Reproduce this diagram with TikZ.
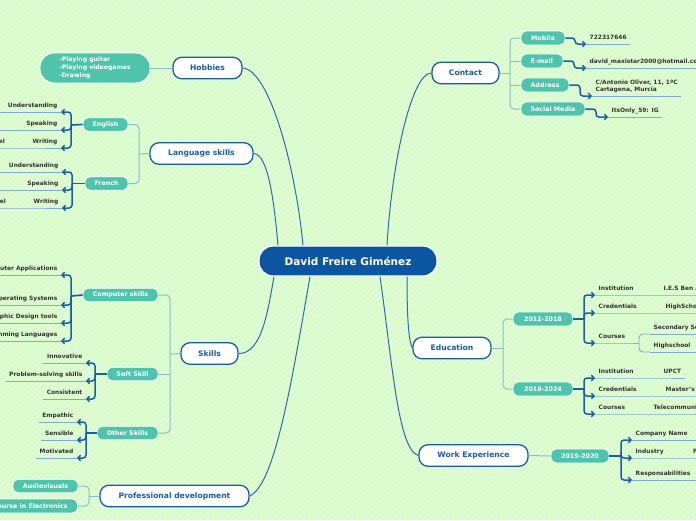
\documentclass[tikz,border=0pt]{standalone}
\usepackage{fontspec}
\setmainfont{DejaVu Sans}
\usetikzlibrary{arrows.meta}
\definecolor{bgc}{HTML}{D9FBCA}
\definecolor{stripec}{HTML}{E3FDD7}
\definecolor{cdark}{HTML}{0C55A1}
\definecolor{cblue}{HTML}{1A5CA8}
\definecolor{curvec}{HTML}{2C6BB2}
\definecolor{cteal}{HTML}{4EC4AA}
\definecolor{slinec}{HTML}{8DBCCF}
\definecolor{ulinec}{HTML}{7FA9D6}
\definecolor{lthickc}{HTML}{1A5FAE}
\definecolor{ltextc}{HTML}{333333}
\tikzset{
  cnode/.style={fill=cdark, draw=white, line width=1.2pt, rounded corners=14pt, text=white,
    font=\fontsize{10.5}{12}\selectfont\bfseries, minimum width=178pt, minimum height=30pt, inner sep=0pt},
  mnode/.style={fill=white, draw=cblue, line width=1.3pt, rounded corners=9pt, text=cblue,
    font=\fontsize{7.6}{9}\selectfont\bfseries, minimum height=21.5pt, inner sep=0pt},
  snode/.style={fill=cteal, draw=white, line width=0.9pt, rounded corners=5pt, text=white,
    font=\fontsize{6.3}{7.5}\selectfont\bfseries, minimum height=13.5pt, inner xsep=5pt, inner ysep=0pt},
  leaf/.style={text=ltextc, font=\fontsize{5.9}{7}\selectfont\bfseries, inner xsep=3.5pt, inner ysep=2.5pt,
    text depth=1.5pt},
  curvel/.style={draw=curvec, line width=1pt},
  sbr/.style={draw=slinec, line width=1pt, rounded corners=4pt},
  lstub/.style={draw=lthickc, line width=1.7pt},
  lbr/.style={draw=lthickc, line width=1.5pt, rounded corners=3pt, -{Straight Barb[length=2.6pt,width=5.5pt]}},
  ul/.style={draw=ulinec, line width=0.9pt},
  ulr/.style={draw=ulinec, line width=0.9pt, rounded corners=4pt},
}
\begin{document}
\begin{tikzpicture}[x=1pt,y=-1pt]
\useasboundingbox (0,0) rectangle (696,520);
\clip (0,0) rectangle (696,520);
\fill[bgc] (0,0) rectangle (696,520);
\foreach \i in {-520,-514,...,696} \draw[stripec, line width=1.2pt] (\i,520) -- ({\i+520},0);

% centre
\node[cnode] (cen) at (348,261) {David Freire Giménez};

% main topics
\node[mnode, minimum width=69pt] (hob) at (207.5,68) {Hobbies};
\node[mnode, minimum width=103pt] (lan) at (201.5,153.5) {Language skills};
\node[mnode, minimum width=57pt] (ski) at (209.5,353.5) {Skills};
\node[mnode, minimum width=149pt] (pro) at (174.5,496) {Professional development};
\node[mnode, minimum width=67pt] (con) at (465.5,73) {Contact};
\node[mnode, minimum width=78pt] (edu) at (452,348) {Education};
\node[mnode, minimum width=109pt] (wor) at (473.5,455.5) {Work Experience};

% curves from centre
\draw[curvel] (hob.east) .. controls (270,70) and (296,170) .. ([xshift=-45pt]cen.north);
\draw[curvel] (lan.east) .. controls (268,154) and (274,200) .. ([xshift=-70pt]cen.north);
\draw[curvel] (con.west) .. controls (412,73) and (392,160) .. ([xshift=39pt]cen.north);
\draw[curvel] (ski.east) .. controls (262,354) and (268,310) .. ([xshift=-74pt]cen.south);
\draw[curvel] (pro.east) .. controls (275,485) and (292,380) .. ([xshift=-38pt]cen.south);
\draw[curvel] ([xshift=59pt]cen.south) .. controls (407,310) and (408,340) .. (edu.west);
\draw[curvel] ([xshift=32pt]cen.south) .. controls (392,360) and (398,450) .. (wor.west);

% Hobbies
\node[fill=cteal, draw=white, line width=0.9pt, rounded corners=14pt, text=white, align=left,
  font=\fontsize{6.1}{8}\selectfont\bfseries, minimum width=110pt, minimum height=30pt, inner sep=0pt]
  (hobt) at (95,68) {-Playing guitar\\-Playing videogames\\-Drawing};
\draw[sbr] (hob.west) -- (hobt.east);

% Language skills
\node[snode, minimum width=45pt] (en) at (105.5,124.5) {English};
\node[snode, minimum width=43pt] (fr) at (106.5,183.5) {French};
\draw[sbr] (en.east) -| (139,154) |- (fr.east);
\draw[sbr] (lan.west) -- (139,154);

\draw[lstub] (en.west) -- (71,125);
\node[leaf, anchor=south east] (e1) at (61,112) {Understanding};
\node[leaf, anchor=south east] (e2) at (61,130) {Speaking};
\node[leaf, anchor=south east] (e3) at (61,148) {Writing};
\node[leaf, anchor=south east] (e4) at (8.5,148) {level};
\draw[ul] (e1.south east) -- +(-70,0);
\draw[ul] (e2.south east) -- +(-70,0);
\draw[ul] (e3.south east) -- (e3.south west) -- (e4.south east) -- (e4.south west);
\draw[lbr] (71,125) |- (e1.south east);
\draw[lbr] (71,125) |- (e2.south east);
\draw[lbr] (71,125) |- (e3.south east);

\draw[lstub] (fr.west) -- (72,183.5);
\node[leaf, anchor=south east] (f1) at (62,172) {Understanding};
\node[leaf, anchor=south east] (f2) at (62,190) {Speaking};
\node[leaf, anchor=south east] (f3) at (62,208) {Writing};
\node[leaf, anchor=south east] (f4) at (9.5,208) {level};
\draw[ul] (f1.south east) -- +(-70,0);
\draw[ul] (f2.south east) -- +(-70,0);
\draw[ul] (f3.south east) -- (f3.south west) -- (f4.south east) -- (f4.south west);
\draw[lbr] (72,183.5) |- (f1.south east);
\draw[lbr] (72,183.5) |- (f2.south east);
\draw[lbr] (72,183.5) |- (f3.south east);

% Skills
\node[snode, minimum width=75pt] (cs) at (120.5,295) {Computer skills};
\node[snode, minimum width=51pt] (ss) at (132.5,374) {Soft Skill};
\node[snode, minimum width=61pt] (os) at (127.5,433) {Other Skills};
\draw[sbr] (cs.east) -| (170,354) |- (os.east);
\draw[sbr] (ss.east) -- (170,374);
\draw[sbr] (ski.west) -- (170,354);

\draw[lstub] (cs.west) -- (71,296);
\node[leaf, anchor=south east] (c1) at (61,275) {Computer Applications};
\node[leaf, anchor=south east] (c2) at (61,305) {Operating Systems};
\node[leaf, anchor=south east] (c3) at (61,323) {Graphic Design tools};
\node[leaf, anchor=south east] (c4) at (61,341) {Programming Languages};
\foreach \n in {c1,c2,c3,c4} {
  \draw[ul] (\n.south east) -- (\n.south west);
  \draw[lbr] (71,296) |- (\n.south east);
}

\draw[lstub] (ss.west) -- (95,374);
\node[leaf, anchor=south east] (s1) at (86,363) {Innovative};
\node[leaf, anchor=south east] (s2) at (86,381) {Problem-solving skills};
\node[leaf, anchor=south east] (s3) at (86,399) {Consistent};
\foreach \n in {s1,s2,s3} {
  \draw[ul] (\n.south east) -- (\n.south west);
  \draw[lbr] (95,374) |- (\n.south east);
}

\draw[lstub] (os.west) -- (86,433);
\node[leaf, anchor=south east] (o1) at (77,422) {Empathic};
\node[leaf, anchor=south east] (o2) at (77,440) {Sensible};
\node[leaf, anchor=south east] (o3) at (77,458) {Motivated};
\foreach \n in {o1,o2,o3} {
  \draw[ul] (\n.south east) -- (\n.south west);
  \draw[lbr] (86,433) |- (\n.south east);
}

% Professional development
\node[snode, minimum width=65pt] (au) at (45.5,486) {Audiovisuals};
\node[snode, anchor=east, minimum height=14pt, inner xsep=10pt] (ce) at (78,506) {Course in Electronics};
\draw[sbr] (au.east) -| (89,496) |- (ce.east);
\draw[sbr] (pro.west) -- (89,496);

% Contact
\node[snode, minimum width=44pt, minimum height=14pt] (mo) at (543,38) {Mobile};
\node[snode, minimum width=42pt, minimum height=14pt] (em) at (542,61) {E-mail};
\node[snode, minimum width=48pt, minimum height=14pt] (ad) at (545,85) {Address};
\node[snode, minimum width=64pt, minimum height=14pt] (sm) at (553,109) {Social Media};
\draw[sbr] (mo.west) -| (510,73) |- (sm.west);
\draw[sbr] (em.west) -- (510,61);
\draw[sbr] (ad.west) -- (510,85);
\draw[sbr] (con.east) -- (510,73);

\node[leaf, anchor=south west] (mv) at (586,44) {722317646};
\node[leaf, anchor=south west] (ev) at (586,68) {david\_maxistar2000@hotmail.com};
\node[leaf, anchor=south west, align=left, font=\fontsize{5.9}{7}\selectfont\bfseries] (av) at (592,96) {C/Antonio Oliver, 11, 1ºC\\Cartagena, Murcia};
\node[leaf, anchor=south west] (sv) at (608,117) {ItsOnly\_59: IG};
\foreach \n in {mv,ev,av,sv} \draw[ul] (\n.south west) -- (\n.south east);
\draw[lbr] (mo.east) -| (575,44) -- (mv.south west);
\draw[lbr] (em.east) -| (574,68) -- (ev.south west);
\draw[lbr] (ad.east) -| (580,96) -- (av.south west);
\draw[lbr] (sm.east) -| (596,117) -- (sv.south west);

% Education
\node[snode, minimum width=60pt, minimum height=14pt] (y1) at (543,319) {2012-2018};
\node[snode, minimum width=60pt, minimum height=14pt] (y2) at (543,389) {2018-2024};
\draw[sbr] (y1.west) -| (503,348) |- (y2.west);
\draw[sbr] (edu.east) -- (503,348);

\draw[lstub] (y1.east) -- (584,319);
\node[leaf, anchor=south west] (i1) at (595,295) {Institution};
\node[leaf, anchor=south west] (r1) at (595,313) {Credentials};
\node[leaf, anchor=south west] (k1) at (595,343) {Courses};
\node[leaf, anchor=south west] (i1v) at (660,295) {I.E.S Ben Arabí};
\node[leaf, anchor=south west] (r1v) at (662,313) {HighSchool};
\node[leaf, anchor=south west] (k1a) at (650,334) {Secondary School};
\node[leaf, anchor=south west] (k1b) at (650,352) {Highschool};
\draw[ul] (i1.south west) -- (i1v.south west) -- +(90,0);
\draw[ul] (r1.south west) -- (r1v.south west) -- +(90,0);
\draw[ul] (k1.south west) -- (k1.south east) -- (639,343);
\draw[ulr] (k1a.south west) -| (639,343) |- (k1b.south west);
\draw[ul] (k1a.south west) -- +(90,0);
\draw[ul] (k1b.south west) -- +(90,0);
\foreach \n in {i1,r1,k1} \draw[lbr] (584,319) |- (\n.south west);

\draw[lstub] (y2.east) -- (584,389);
\node[leaf, anchor=south west] (i2) at (595,378) {Institution};
\node[leaf, anchor=south west] (r2) at (595,396) {Credentials};
\node[leaf, anchor=south west] (k2) at (595,414) {Courses};
\node[leaf, anchor=south west] (i2v) at (660,378) {UPCT};
\node[leaf, anchor=south west] (r2v) at (662,396) {Master's Degree};
\node[leaf, anchor=south west] (k2v) at (650,414) {Telecommunications Engineering};
\draw[ul] (i2.south west) -- (i2v.south west) -- (i2v.south east);
\draw[ul] (r2.south west) -- (r2v.south west) -- +(90,0);
\draw[ul] (k2.south west) -- (k2v.south west) -- +(90,0);
\foreach \n in {i2,r2,k2} \draw[lbr] (584,389) |- (\n.south west);

% Work experience
\node[snode, minimum width=58pt, minimum height=14pt] (y3) at (580,456) {2019-2020};
\draw[sbr] (wor.east) -- (y3.west);
\draw[lstub] (y3.east) -- (621,456);
\node[leaf, anchor=south west] (w1) at (632,440) {Company Name};
\node[leaf, anchor=south west] (w2) at (632,458) {Industry};
\node[leaf, anchor=south west] (w3) at (632,480) {Responsabilities};
\node[leaf, anchor=south west] (w2v) at (689.5,458) {F};
\draw[ul] (w1.south west) -- +(90,0);
\draw[ul] (w2.south west) -- (w2v.south west) -- +(30,0);
\draw[ul] (w3.south west) -- +(90,0);
\foreach \n in {w1,w2,w3} \draw[lbr] (621,456) |- (\n.south west);
\end{tikzpicture}
\end{document}
